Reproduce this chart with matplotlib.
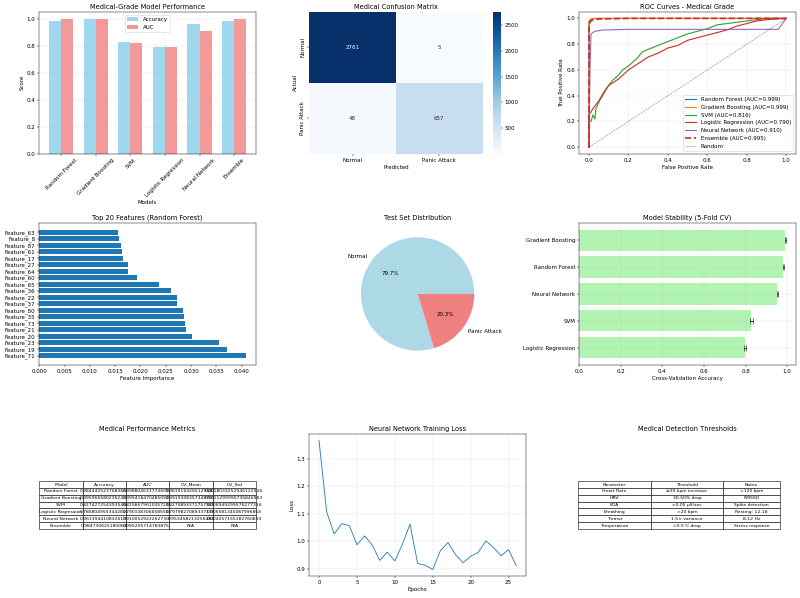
import numpy as np
import matplotlib
matplotlib.use("Agg")
import matplotlib.pyplot as plt
import seaborn as sns

# ---------------- data ----------------
models = ["Random Forest", "Gradient Boosting", "SVM", "Logistic Regression", "Neural Network", "Ensemble"]
accuracy = [0.9844425237683664, 0.9959665802362432, 0.8274272543935466,
            0.7868049553442812, 0.9613944108326131, 0.984730625180063]
auc_vals = [0.9988046337746093, 0.9994184704850926, 0.8158679610057237,
            0.7901083066585565, 0.9100529222627305, 0.9952057147838752]

cv_models = ["Random Forest", "Gradient Boosting", "SVM", "Logistic Regression", "Neural Network"]
cv_mean = [0.9819164265129683, 0.9919308357348703, 0.8270893371757925,
           0.7979827089337176, 0.9534582132564841]
cv_std = [0.0018033252946122926, 0.0011299990735846962, 0.006949299576277316,
          0.006581340087996854, 0.004257155182760833]

cm_labels = ["Normal", "Panic Attack"]
confusion = [[2761, 5], [48, 657]]

roc_names = ["Random Forest", "Gradient Boosting", "SVM", "Logistic Regression", "Neural Network", "Ensemble"]
roc_auc = [0.999, 0.999, 0.816, 0.790, 0.910, 0.995]
roc_fpr = [
    [0.0, 0.0, 0.005, 0.01, 0.03, 1.0],
    [0.0, 0.0, 0.005, 0.01, 0.02, 1.0],
    [0.0, 0.0, 0.01, 0.02, 0.03, 0.035, 0.05, 0.08, 0.10, 0.12, 0.15, 0.17, 0.20, 0.25, 0.27,
     0.30, 0.35, 0.40, 0.45, 0.50, 0.55, 0.60, 0.65, 0.70, 0.80, 0.90, 1.0],
    [0.0, 0.0, 0.02, 0.05, 0.08, 0.10, 0.15, 0.20, 0.25, 0.30, 0.35, 0.40, 0.45, 0.50, 0.55,
     0.60, 0.65, 0.70, 0.75, 0.80, 0.85, 0.90, 1.0],
    [0.0, 0.005, 0.01, 0.03, 0.07, 0.20, 0.96, 1.0],
    [0.0, 0.0, 0.01, 0.02, 0.05, 0.20, 1.0],
]
roc_tpr = [
    [0.0, 0.97, 0.985, 0.99, 1.0, 1.0],
    [0.0, 0.98, 0.99, 0.995, 1.0, 1.0],
    [0.0, 0.20, 0.20, 0.25, 0.22, 0.30, 0.35, 0.43, 0.48, 0.52, 0.56, 0.60, 0.63, 0.70, 0.74,
     0.76, 0.79, 0.82, 0.85, 0.88, 0.90, 0.92, 0.95, 0.96, 0.98, 1.0, 1.0],
    [0.0, 0.25, 0.30, 0.36, 0.44, 0.48, 0.53, 0.60, 0.65, 0.70, 0.73, 0.77, 0.79, 0.83, 0.85,
     0.87, 0.89, 0.91, 0.94, 0.96, 0.98, 0.99, 1.0],
    [0.0, 0.60, 0.88, 0.90, 0.91, 0.915, 0.915, 1.0],
    [0.0, 0.96, 0.98, 0.99, 0.995, 1.0, 1.0],
]

feature_names = ["Feature_71", "Feature_19", "Feature_23", "Feature_20", "Feature_21",
                 "Feature_73", "Feature_35", "Feature_80", "Feature_37", "Feature_22",
                 "Feature_36", "Feature_65", "Feature_60", "Feature_64", "Feature_27",
                 "Feature_17", "Feature_61", "Feature_87", "Feature_8", "Feature_63"]
feature_importance = [0.0408, 0.0371, 0.0355, 0.0301, 0.0291, 0.0288, 0.0287, 0.0284,
                      0.0272, 0.0272, 0.0260, 0.0236, 0.0194, 0.0176, 0.0176, 0.0166,
                      0.0164, 0.0162, 0.0157, 0.0155]

pie_labels = ["Normal", "Panic Attack"]
pie_counts = [2766, 705]

loss = [1.367, 1.108, 1.027, 1.065, 1.057, 0.988, 1.020, 0.988, 0.931, 0.961, 0.929,
        0.990, 1.063, 0.920, 0.913, 0.898, 0.966, 0.996, 0.952, 0.922, 0.946, 0.960,
        1.002, 0.978, 0.948, 0.970, 0.912]

table_cols = ["Model", "Accuracy", "AUC", "CV_Mean", "CV_Std"]

thr_cols = ["Parameter", "Threshold", "Notes"]
thr_params = ["Heart Rate", "HRV", "EDA", "Breathing", "Tremor", "Temperature"]
thr_values = ["≥30 bpm increase", "30-50% drop", ">0.05 μS/sec", ">20 bpm", "1.5× variance", ">0.5°C drop"]
thr_notes = [">120 bpm", "RMSSD", "Spike detection", "Resting: 12-18", "8-12 Hz", "Stress response"]

# ---------------- figure ----------------
fig, axes = plt.subplots(3, 3, figsize=(20, 14.95))
fig.subplots_adjust(left=0.049, right=0.995, top=0.98, bottom=0.037, wspace=0.245, hspace=0.49)

# 1. performance bars
ax = axes[0, 0]
x = np.arange(len(models))
w = 0.35
ax.bar(x - w / 2, accuracy, w, label="Accuracy", color="skyblue", alpha=0.8)
ax.bar(x + w / 2, auc_vals, w, label="AUC", color="lightcoral", alpha=0.8)
ax.set_xticks(x)
ax.set_xticklabels(models, rotation=45)
ax.set_xlabel("Models")
ax.set_ylabel("Score")
ax.set_title("Medical-Grade Model Performance")
ax.legend(loc="upper center")
ax.grid(True, alpha=0.3)

# 2. confusion matrix
ax = axes[0, 1]
sns.heatmap(np.array(confusion), annot=True, fmt="d", cmap="Blues",
            xticklabels=cm_labels, yticklabels=cm_labels, ax=ax)
ax.set_yticklabels(cm_labels, rotation=90, va="center")
ax.set_title("Medical Confusion Matrix")
ax.set_xlabel("Predicted")
ax.set_ylabel("Actual")

# 3. ROC
ax = axes[0, 2]
for i, name in enumerate(roc_names):
    if name == "Ensemble":
        ax.plot(roc_fpr[i], roc_tpr[i], "--", color="#d62728", lw=3,
                label=f"{name} (AUC={roc_auc[i]:.3f})")
    else:
        ax.plot(roc_fpr[i], roc_tpr[i], color=f"C{i}", lw=2,
                label=f"{name} (AUC={roc_auc[i]:.3f})")
ax.plot([0, 1], [0, 1], "k--", alpha=0.5, lw=1, label="Random")
ax.set_xlabel("False Positive Rate")
ax.set_ylabel("True Positive Rate")
ax.set_title("ROC Curves - Medical Grade")
ax.legend(loc="lower right")
ax.grid(True, alpha=0.3)

# 4. feature importance
ax = axes[1, 0]
ax.barh(range(len(feature_names)), feature_importance)
ax.set_yticks(range(len(feature_names)))
ax.set_yticklabels(feature_names)
ax.set_xlabel("Feature Importance")
ax.set_title("Top 20 Features (Random Forest)")

# 5. pie
ax = axes[1, 1]
ax.pie(pie_counts, labels=pie_labels, colors=["lightblue", "lightcoral"], autopct="%1.1f%%")
ax.set_title("Test Set Distribution")

# 6. stability
ax = axes[1, 2]
order = np.argsort(cv_mean)
ax.barh(range(len(order)), [cv_mean[i] for i in order], xerr=[cv_std[i] for i in order],
        color="lightgreen", alpha=0.7, capsize=5)
ax.set_yticks(range(len(order)))
ax.set_yticklabels([cv_models[i] for i in order])
ax.set_xlabel("Cross-Validation Accuracy")
ax.set_title("Model Stability (5-Fold CV)")
ax.grid(True, alpha=0.3)

# 7. metrics table
ax = axes[2, 0]
ax.axis("off")
cv_lookup = dict(zip(cv_models, zip(cv_mean, cv_std)))
rows = []
for m, a, u in zip(models, accuracy, auc_vals):
    if m in cv_lookup:
        cm_, cs_ = cv_lookup[m]
        rows.append([m, str(a), str(u), str(cm_), str(cs_)])
    else:
        rows.append([m, str(a), str(u), "N/A", "N/A"])
tab = ax.table(cellText=rows, colLabels=table_cols, cellLoc="center",
               bbox=[0.0, 0.331, 1.0, 0.338])
tab.auto_set_font_size(False)
tab.set_fontsize(8)
ax.set_title("Medical Performance Metrics")

# 8. loss
ax = axes[2, 1]
ax.plot(loss)
ax.set_title("Neural Network Training Loss")
ax.set_xlabel("Epochs")
ax.set_ylabel("Loss")
ax.grid(True, alpha=0.3)

# 9. thresholds table
ax = axes[2, 2]
ax.axis("off")
thr_rows = [list(r) for r in zip(thr_params, thr_values, thr_notes)]
tab2 = ax.table(cellText=thr_rows, colLabels=thr_cols, cellLoc="center",
                colWidths=[0.336, 0.332, 0.262], bbox=[-0.005, 0.331, 0.93, 0.338])
tab2.auto_set_font_size(False)
tab2.set_fontsize(8)
ax.set_title("Medical Detection Thresholds")

fig.savefig("out.png", dpi=40)
